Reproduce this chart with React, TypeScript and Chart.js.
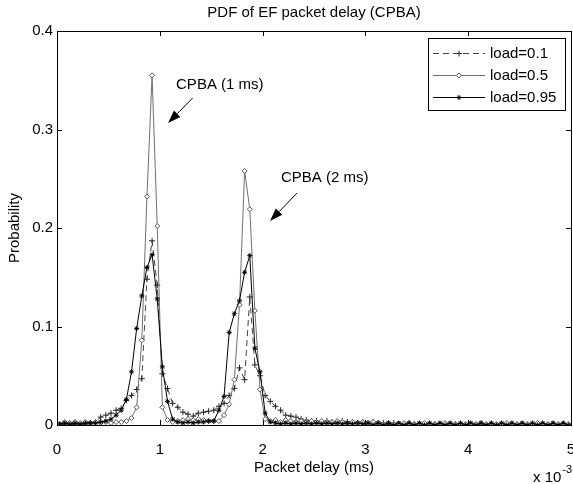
import React, { useEffect, useRef } from "react";
import { Chart, registerables } from "chart.js";

Chart.register(...registerables);

// Packet delay bin centres (ms, axis shown as x 10^-3 s)
const DELAY_MS = [
  0.025, 0.075, 0.125, 0.175, 0.225, 0.275, 0.325, 0.375, 0.425, 0.475,
  0.525, 0.575, 0.625, 0.675, 0.725, 0.775, 0.825, 0.875, 0.925, 0.975,
  1.025, 1.075, 1.125, 1.175, 1.225, 1.275, 1.325, 1.375, 1.425, 1.475,
  1.525, 1.575, 1.625, 1.675, 1.725, 1.775, 1.825, 1.875, 1.925, 1.975,
  2.025, 2.075, 2.125, 2.175, 2.225, 2.275, 2.325, 2.375, 2.425, 2.475,
  2.525, 2.575, 2.625, 2.675, 2.725, 2.775, 2.825, 2.875, 2.925, 2.975,
  3.025, 3.075, 3.125, 3.175, 3.225, 3.275, 3.325, 3.375, 3.425, 3.475,
  3.525, 3.575, 3.625, 3.675, 3.725, 3.775, 3.825, 3.875, 3.925, 3.975,
  4.025, 4.075, 4.125, 4.175, 4.225, 4.275, 4.325, 4.375, 4.425, 4.475,
  4.525, 4.575, 4.625, 4.675, 4.725, 4.775, 4.825, 4.875, 4.925, 4.975,
];

const LOAD_01 = [
  0.000, 0.001, 0.000, 0.001, 0.001, 0.001, 0.002, 0.003, 0.008, 0.010,
  0.012, 0.015, 0.017, 0.025, 0.030, 0.036, 0.047, 0.148, 0.187, 0.142,
  0.052, 0.037, 0.022, 0.018, 0.013, 0.011, 0.009, 0.012, 0.013, 0.014,
  0.015, 0.019, 0.022, 0.030, 0.037, 0.058, 0.046, 0.130, 0.061, 0.050,
  0.030, 0.024, 0.019, 0.015, 0.010, 0.009, 0.008, 0.006, 0.005, 0.004,
  0.004, 0.003, 0.004, 0.003, 0.003, 0.004, 0.003, 0.003, 0.002, 0.003,
  0.002, 0.003, 0.002, 0.002, 0.001, 0.002, 0.001, 0.001, 0.002, 0.001,
  0.001, 0.000, 0.001, 0.001, 0.000, 0.001, 0.000, 0.001, 0.001, 0.000,
  0.001, 0.000, 0.001, 0.000, 0.001, 0.000, 0.001, 0.000, 0.001, 0.000,
  0.001, 0.000, 0.001, 0.000, 0.001, 0.000, 0.001, 0.000, 0.001, 0.000,
];

const LOAD_05 = [
  0.001, 0.003, 0.002, 0.003, 0.002, 0.003, 0.002, 0.003, 0.002, 0.003,
  0.002, 0.003, 0.003, 0.004, 0.007, 0.018, 0.086, 0.232, 0.355, 0.202,
  0.018, 0.005, 0.003, 0.004, 0.005, 0.006, 0.005, 0.006, 0.005, 0.004,
  0.004, 0.004, 0.010, 0.021, 0.046, 0.122, 0.258, 0.219, 0.116, 0.036,
  0.006, 0.004, 0.005, 0.003, 0.005, 0.004, 0.003, 0.004, 0.003, 0.004,
  0.003, 0.004, 0.003, 0.003, 0.004, 0.003, 0.002, 0.003, 0.002, 0.003,
  0.002, 0.003, 0.002, 0.001, 0.002, 0.001, 0.001, 0.002, 0.001, 0.001,
  0.001, 0.002, 0.001, 0.001, 0.001, 0.002, 0.001, 0.001, 0.001, 0.001,
  0.001, 0.001, 0.002, 0.001, 0.001, 0.001, 0.001, 0.002, 0.001, 0.001,
  0.001, 0.001, 0.001, 0.002, 0.001, 0.001, 0.001, 0.001, 0.001, 0.001,
];

const LOAD_095 = [
  0.001, 0.002, 0.001, 0.002, 0.001, 0.002, 0.002, 0.002, 0.003, 0.004,
  0.006, 0.010, 0.015, 0.026, 0.054, 0.098, 0.131, 0.160, 0.173, 0.128,
  0.059, 0.024, 0.006, 0.003, 0.002, 0.003, 0.002, 0.003, 0.003, 0.004,
  0.004, 0.015, 0.029, 0.094, 0.113, 0.126, 0.155, 0.172, 0.078, 0.054,
  0.012, 0.003, 0.002, 0.001, 0.002, 0.001, 0.002, 0.001, 0.002, 0.001,
  0.002, 0.001, 0.002, 0.001, 0.002, 0.001, 0.002, 0.001, 0.002, 0.001,
  0.002, 0.000, 0.002, 0.000, 0.002, 0.000, 0.002, 0.000, 0.002, 0.000,
  0.002, 0.000, 0.002, 0.000, 0.002, 0.000, 0.002, 0.000, 0.002, 0.000,
  0.002, 0.000, 0.002, 0.000, 0.002, 0.000, 0.002, 0.000, 0.002, 0.000,
  0.002, 0.000, 0.002, 0.000, 0.002, 0.000, 0.002, 0.000, 0.002, 0.000,
];

const SERIES_LABELS = ["load=0.1", "load=0.5", "load=0.95"];
const X_TICKS = [0, 1, 2, 3, 4, 5];
const Y_TICKS = [0, 0.1, 0.2, 0.3, 0.4];
const TITLE = "PDF of EF packet delay (CPBA)";
const X_LABEL = "Packet delay (ms)";
const Y_LABEL = "Probability";
const X_EXPONENT = "-3";

// annotation text anchors and arrows, in data units (ms, probability)
const ANNOTATIONS = [
  { text: "CPBA (1 ms)", tx: 1.158, ty: 0.345, fx: 1.32, fy: 0.332, ax: 1.08, ay: 0.3066 },
  { text: "CPBA (2 ms)", tx: 2.179, ty: 0.2508, fx: 2.335, fy: 0.2355, ax: 2.072, ay: 0.207 },
];

const FONT_FAMILY = "'Liberation Sans', Arial, Helvetica, sans-serif";
const FONT_SIZE = 15;

const toPoints = (ys: number[]) => ys.map((y, i) => ({ x: DELAY_MS[i], y }));

function drawMarker(ctx: CanvasRenderingContext2D, style: string, x: number, y: number, r: number, stroke: string, fill: string) {
  ctx.save();
  ctx.setLineDash([]);
  ctx.lineWidth = 1;
  ctx.strokeStyle = stroke;
  ctx.fillStyle = fill;
  ctx.beginPath();
  if (style === "cross") {
    ctx.moveTo(x - r, y);
    ctx.lineTo(x + r, y);
    ctx.moveTo(x, y - r);
    ctx.lineTo(x, y + r);
    ctx.stroke();
  } else if (style === "rectRot") {
    ctx.moveTo(x, y - r);
    ctx.lineTo(x + r, y);
    ctx.lineTo(x, y + r);
    ctx.lineTo(x - r, y);
    ctx.closePath();
    ctx.fill();
    ctx.stroke();
  } else {
    const d = r * 0.7;
    ctx.moveTo(x - r, y);
    ctx.lineTo(x + r, y);
    ctx.moveTo(x, y - r);
    ctx.lineTo(x, y + r);
    ctx.moveTo(x - d, y - d);
    ctx.lineTo(x + d, y + d);
    ctx.moveTo(x - d, y + d);
    ctx.lineTo(x + d, y - d);
    ctx.stroke();
  }
  ctx.restore();
}

const decorPlugin = {
  id: "decor",
  afterDraw(chart: any) {
    const { ctx, chartArea, scales } = chart;
    const { left, right, top, bottom } = chartArea;
    const xs = scales.x;
    const ys = scales.y;
    ctx.save();
    ctx.strokeStyle = "#000";
    ctx.lineWidth = 1;
    ctx.setLineDash([]);
    // frame
    ctx.strokeRect(Math.round(left) + 0.5, Math.round(top) + 0.5, Math.round(right - left), Math.round(bottom - top));
    // inward ticks
    const tl = 5;
    ctx.beginPath();
    X_TICKS.forEach((v) => {
      const px = Math.round(xs.getPixelForValue(v)) + 0.5;
      ctx.moveTo(px, bottom);
      ctx.lineTo(px, bottom - tl);
      ctx.moveTo(px, top);
      ctx.lineTo(px, top + tl);
    });
    Y_TICKS.forEach((v) => {
      const py = Math.round(ys.getPixelForValue(v)) + 0.5;
      ctx.moveTo(left, py);
      ctx.lineTo(left + tl, py);
      ctx.moveTo(right, py);
      ctx.lineTo(right - tl, py);
    });
    ctx.stroke();

    ctx.fillStyle = "#000";
    ctx.font = `${FONT_SIZE}px ${FONT_FAMILY}`;
    // title
    ctx.textAlign = "center";
    ctx.textBaseline = "middle";
    ctx.fillText(TITLE, (left + right) / 2, 13);

    // exponent label
    ctx.textAlign = "left";
    ctx.textBaseline = "alphabetic";
    ctx.fillText("x 10", 533, 482);
    const w2 = ctx.measureText("x 10").width;
    ctx.font = `11px ${FONT_FAMILY}`;
    ctx.fillText(X_EXPONENT, 533 + w2 + 1, 473);

    // annotations
    ctx.font = `${FONT_SIZE}px ${FONT_FAMILY}`;
    ANNOTATIONS.forEach((a) => {
      ctx.textAlign = "left";
      ctx.textBaseline = "middle";
      ctx.fillText(a.text, xs.getPixelForValue(a.tx), ys.getPixelForValue(a.ty));
      const x1 = xs.getPixelForValue(a.fx);
      const y1 = ys.getPixelForValue(a.fy);
      const x2 = xs.getPixelForValue(a.ax);
      const y2 = ys.getPixelForValue(a.ay);
      const ang = Math.atan2(y2 - y1, x2 - x1);
      const hl = 13;
      const hw = 4.5;
      const bx = x2 - hl * Math.cos(ang);
      const by = y2 - hl * Math.sin(ang);
      ctx.beginPath();
      ctx.moveTo(x1, y1);
      ctx.lineTo(bx, by);
      ctx.stroke();
      ctx.beginPath();
      ctx.moveTo(x2, y2);
      ctx.lineTo(bx + hw * Math.sin(ang), by - hw * Math.cos(ang));
      ctx.lineTo(bx - hw * Math.sin(ang), by + hw * Math.cos(ang));
      ctx.closePath();
      ctx.fill();
    });

    // legend
    const lx = 428, ly = 38, lw = 137, lh = 72;
    ctx.fillStyle = "#fff";
    ctx.fillRect(lx, ly, lw, lh);
    ctx.strokeStyle = "#000";
    ctx.strokeRect(lx + 0.5, ly + 0.5, lw, lh);
    const rows = [53, 75, 97];
    chart.data.datasets.forEach((ds: any, i: number) => {
      const y = rows[i] + 0.5;
      ctx.save();
      ctx.strokeStyle = ds.borderColor;
      ctx.lineWidth = ds.borderWidth;
      ctx.setLineDash(ds.borderDash || []);
      ctx.beginPath();
      ctx.moveTo(433, y);
      ctx.lineTo(485, y);
      ctx.stroke();
      ctx.restore();
      drawMarker(ctx, ds.pointStyle, 459, y, ds.pointRadius, ds.pointBorderColor, ds.pointBackgroundColor);
      ctx.fillStyle = "#000";
      ctx.font = `${FONT_SIZE}px ${FONT_FAMILY}`;
      ctx.textAlign = "left";
      ctx.textBaseline = "middle";
      ctx.fillText(SERIES_LABELS[i], 490, rows[i] + 1);
    });
    ctx.restore();
  },
};

export default function App() {
  const ref = useRef<HTMLCanvasElement | null>(null);
  useEffect(() => {
    if (!ref.current) return;
    const font = { family: FONT_FAMILY, size: FONT_SIZE };
    const chart = new Chart(ref.current, {
      type: "line",
      data: {
        datasets: [
          {
            label: SERIES_LABELS[0],
            data: toPoints(LOAD_01),
            borderColor: "#444",
            borderWidth: 1,
            borderDash: [6, 4],
            pointStyle: "cross",
            pointRadius: 3,
            pointBorderWidth: 1,
            pointBorderColor: "#222",
            pointBackgroundColor: "#222",
            order: 3,
          },
          {
            label: SERIES_LABELS[1],
            data: toPoints(LOAD_05),
            borderColor: "#707070",
            borderWidth: 1,
            pointStyle: "rectRot",
            pointRadius: 2.5,
            pointBorderWidth: 1,
            pointBorderColor: "#555",
            pointBackgroundColor: "#fff",
            order: 2,
          },
          {
            label: SERIES_LABELS[2],
            data: toPoints(LOAD_095),
            borderColor: "#000",
            borderWidth: 1,
            pointStyle: "star",
            pointRadius: 2.5,
            pointBorderWidth: 1,
            pointBorderColor: "#000",
            pointBackgroundColor: "#000",
            order: 1,
          },
        ],
      },
      options: {
        animation: false,
        responsive: false,
        devicePixelRatio: 1,
        events: [],
        layout: { padding: { top: 31, right: 29, bottom: 0, left: 0 } },
        plugins: {
          legend: { display: false },
          tooltip: { enabled: false },
          title: { display: false },
        },
        elements: { line: { tension: 0 } },
        scales: {
          x: {
            type: "linear",
            min: 0,
            max: 5,
            afterBuildTicks: (s: any) => {
              s.ticks = X_TICKS.map((v) => ({ value: v }));
            },
            afterFit: (s: any) => {
              s.height = 59;
            },
            grid: { display: false, drawTicks: false },
            border: { display: false },
            ticks: {
              font,
              color: "#000",
              padding: 16,
              maxRotation: 0,
              autoSkip: false,
              callback: (v: any) => String(v),
            },
            title: {
              display: true,
              text: X_LABEL,
              font,
              color: "#000",
              padding: { top: 0, bottom: 7 },
            },
          },
          y: {
            type: "linear",
            min: 0,
            max: 0.4,
            afterBuildTicks: (s: any) => {
              s.ticks = Y_TICKS.map((v) => ({ value: v }));
            },
            afterFit: (s: any) => {
              s.width = 57;
            },
            grid: { display: false, drawTicks: false },
            border: { display: false },
            ticks: {
              font,
              color: "#000",
              padding: 4,
              callback: (v: any) => String(v),
            },
            title: {
              display: true,
              text: Y_LABEL,
              font,
              color: "#000",
              padding: { top: 6, bottom: 0 },
            },
          },
        },
      },
      plugins: [decorPlugin],
    } as any);
    return () => chart.destroy();
  }, []);
  return (
    <div
      style={{
        position: "fixed",
        left: 0,
        top: 0,
        width: 573,
        height: 484,
        overflow: "hidden",
        background: "#fff",
      }}
    >
      <canvas ref={ref} width={600} height={484} style={{ width: 600, height: 484, display: "block" }} />
    </div>
  );
}
